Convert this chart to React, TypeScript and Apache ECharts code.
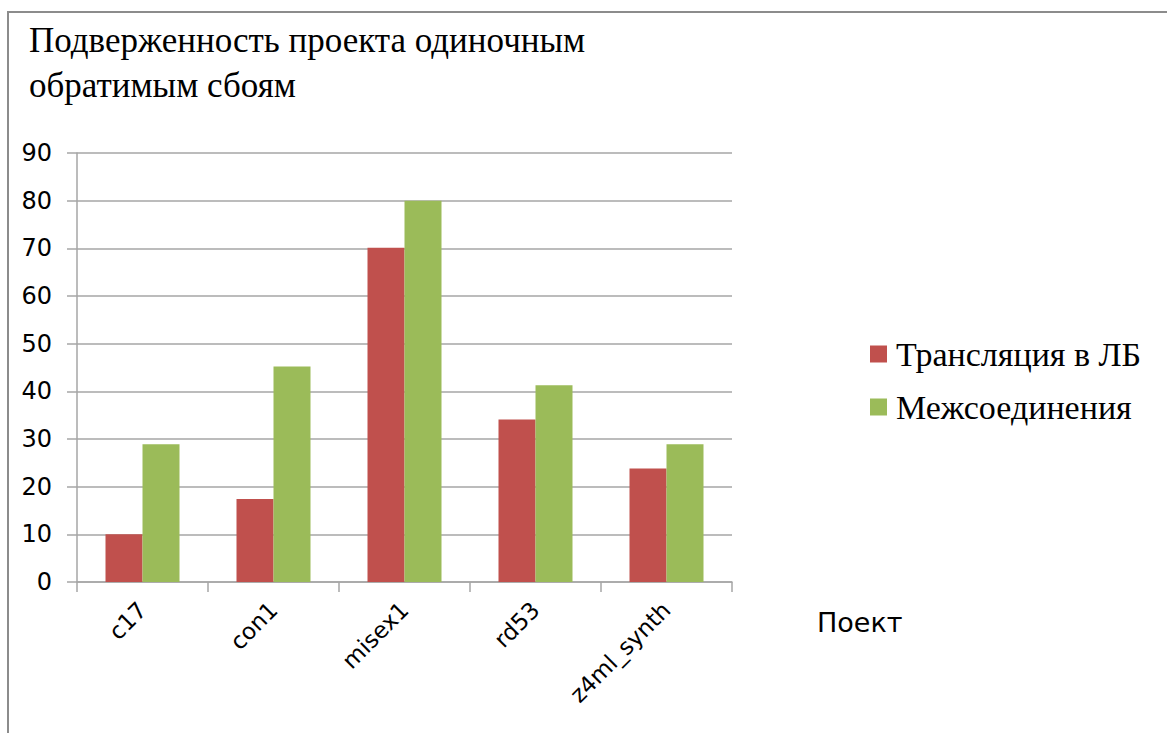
import React, { useEffect, useRef } from "react";
import * as echarts from "echarts";

const titleText = "Подверженность проекта одиночным\nобратимым сбоям";
const categories = ["c17", "con1", "misex1", "rd53", "z4ml_synth"];
const seriesNames = ["Трансляция в ЛБ", "Межсоединения"];
const translationValues = [10, 17.4, 70.1, 34.1, 23.8];
const interconnectValues = [28.9, 45.2, 80, 41.3, 28.9];
const xAxisName = "Поект";

export default function App() {
  const ref = useRef<HTMLDivElement>(null);
  useEffect(() => {
    if (!ref.current) return;
    const chart = echarts.init(ref.current, null, { renderer: "svg" });
    const gridColor = "#a6a6a6";
    chart.setOption({
      animation: false,
      backgroundColor: "#ffffff",
      graphic: [
        {
          type: "rect",
          shape: { x: 8, y: 12, width: 1300, height: 900 },
          style: { fill: "none", stroke: "#8c8c8c", lineWidth: 2 },
          silent: true,
        },
      ],
      title: {
        text: titleText,
        left: 24,
        top: 13,
        textStyle: {
          fontFamily: "Liberation Serif",
          fontSize: 35,
          fontWeight: "normal",
          color: "#000000",
          lineHeight: 45,
        },
      },
      legend: {
        orient: "vertical",
        left: 865,
        top: 332,
        icon: "rect",
        itemWidth: 17,
        itemHeight: 17,
        itemGap: 19,
        textStyle: {
          fontFamily: "Liberation Serif",
          fontSize: 34,
          color: "#000000",
          padding: [0, 0, 0, 4],
        },
        data: seriesNames,
      },
      grid: { left: 77, right: 435, top: 153, bottom: 151, containLabel: false },
      xAxis: {
        type: "category",
        data: categories,
        name: xAxisName,
        nameLocation: "end",
        nameGap: 85,
        nameTextStyle: {
          fontFamily: "DejaVu Sans",
          fontSize: 27,
          color: "#000000",
          align: "left",
          verticalAlign: "top",
          padding: [27, 0, 0, 0],
        },
        axisLine: { show: true, lineStyle: { color: gridColor, width: 1.5 } },
        axisTick: { show: true, length: 10, inside: false, lineStyle: { color: gridColor, width: 1.5 } },
        axisLabel: {
          rotate: 45,
          margin: 24,
          fontFamily: "DejaVu Sans",
          fontSize: 23,
          color: "#000000",
        },
      },
      yAxis: {
        type: "value",
        min: 0,
        max: 90,
        interval: 10,
        axisLine: { show: true, lineStyle: { color: gridColor, width: 1.5 } },
        axisTick: { show: true, length: 10, lineStyle: { color: gridColor, width: 1.5 } },
        splitLine: { show: true, lineStyle: { color: gridColor, width: 1.5 } },
        axisLabel: {
          margin: 25,
          fontFamily: "DejaVu Sans",
          fontSize: 24,
          color: "#000000",
        },
      },
      series: [
        {
          name: seriesNames[0],
          type: "bar",
          data: translationValues,
          itemStyle: { color: "#c0504d" },
          barWidth: 37,
          barGap: "0%",
        },
        {
          name: seriesNames[1],
          type: "bar",
          data: interconnectValues,
          itemStyle: { color: "#9bbb59" },
          barWidth: 37,
          barGap: "0%",
        },
      ],
    });
    return () => chart.dispose();
  }, []);
  return (
    <div
      ref={ref}
      style={{ position: "fixed", left: 0, top: 0, width: 1167, height: 733 }}
    />
  );
}
